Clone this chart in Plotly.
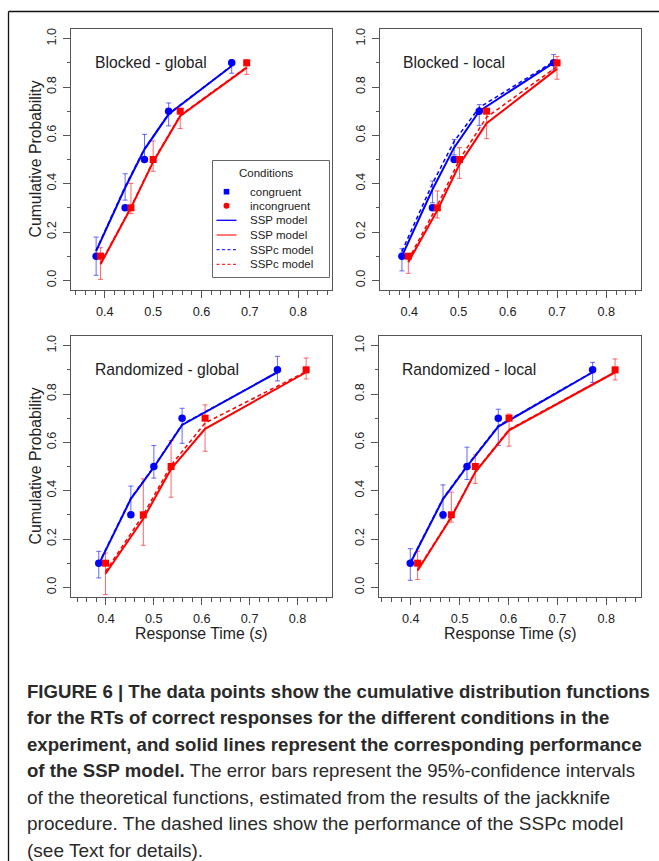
import plotly.graph_objects as go

W, H = 659, 861

# ---------------- data ----------------
panel_titles = ["Blocked - global", "Blocked - local", "Randomized - global", "Randomized - local"]
probs = [0.1, 0.3, 0.5, 0.7, 0.9]

cong_rt = [
    [0.382, 0.442, 0.482, 0.532, 0.6625],
    [0.385, 0.447, 0.491, 0.542, 0.693],
    [0.385, 0.452, 0.500, 0.559, 0.758],
    [0.399, 0.466, 0.515, 0.579, 0.772],
]
incong_rt = [
    [0.391, 0.454, 0.500, 0.556, 0.6935],
    [0.398, 0.457, 0.502, 0.557, 0.700],
    [0.399, 0.478, 0.536, 0.607, 0.818],
    [0.414, 0.483, 0.532, 0.601, 0.818],
]
ssp_cong = [
    [0.121, 0.383, 0.542, 0.687, 0.887],
    [0.100, 0.376, 0.549, 0.700, 0.900],
    [0.095, 0.366, 0.497, 0.672, 0.890],
    [0.100, 0.365, 0.500, 0.665, 0.890],
]
sspc_cong = [
    [0.124, 0.388, 0.544, 0.689, 0.888],
    [0.120, 0.400, 0.575, 0.715, 0.905],
    [0.098, 0.369, 0.499, 0.674, 0.890],
    [0.103, 0.368, 0.503, 0.668, 0.891],
]
ssp_incong = [
    [0.066, 0.300, 0.490, 0.680, 0.880],
    [0.075, 0.290, 0.480, 0.650, 0.875],
    [0.056, 0.284, 0.490, 0.656, 0.890],
    [0.070, 0.290, 0.477, 0.650, 0.890],
]
sspc_incong = [
    [0.069, 0.303, 0.493, 0.683, 0.882],
    [0.085, 0.310, 0.500, 0.675, 0.885],
    [0.065, 0.300, 0.505, 0.680, 0.893],
    [0.073, 0.293, 0.479, 0.653, 0.891],
]
ci_cong_lo = [
    [0.021, 0.332, 0.499, 0.639, 0.857],
    [0.039, 0.321, 0.519, 0.641, 0.870],
    [0.039, 0.290, 0.452, 0.596, 0.854],
    [0.029, 0.284, 0.446, 0.587, 0.848],
]
ci_cong_hi = [
    [0.179, 0.441, 0.604, 0.734, 0.912],
    [0.131, 0.411, 0.583, 0.727, 0.934],
    [0.149, 0.419, 0.587, 0.741, 0.956],
    [0.160, 0.424, 0.580, 0.737, 0.931],
]
ci_incong_lo = [
    [0.004, 0.276, 0.451, 0.628, 0.852],
    [0.029, 0.258, 0.422, 0.586, 0.832],
    [-0.030, 0.174, 0.373, 0.563, 0.862],
    [0.032, 0.270, 0.430, 0.584, 0.858],
]
ci_incong_hi = [
    [0.135, 0.401, 0.577, 0.708, 0.912],
    [0.100, 0.370, 0.549, 0.698, 0.926],
    [0.142, 0.449, 0.607, 0.755, 0.949],
    [0.149, 0.394, 0.548, 0.717, 0.945],
]
x_ticks = [0.4, 0.5, 0.6, 0.7, 0.8]
y_ticks = [0.0, 0.2, 0.4, 0.6, 0.8, 1.0]
legend_labels = ["congruent", "incongruent", "SSP model", "SSP model", "SSPc model", "SSPc model"]

caption_lines = [
    "<b>FIGURE 6 | The data points show the cumulative distribution functions</b>",
    "<b>for the RTs of correct responses for the different conditions in the</b>",
    "<b>experiment, and solid lines represent the corresponding performance</b>",
    "<b>of the SSP model.</b> The error bars represent the 95%-confidence intervals",
    "of the theoretical functions, estimated from the results of the jackknife",
    "procedure. The dashed lines show the performance of the SSPc model",
    "(see Text for details).",
]

# ---------------- styling ----------------
FONT = "Liberation Sans, Arial, sans-serif"
BLUE = "#0000ff"
RED = "#ff0000"
BLUE_EB = "rgba(40,40,255,0.7)"
RED_EB = "rgba(255,40,40,0.7)"
AXC = "#555555"

# pixel boxes of the panels: (left, right, top, bottom)
boxes = [(71, 332, 29, 290), (380, 641, 29, 290), (71, 332, 336, 597), (379, 641, 336, 597)]
xranges = [[0.33, 0.87], [0.3405, 0.8705], [0.327, 0.872], [0.335, 0.871]]
yrange = [-0.04, 1.04]

fig = go.Figure()

for i in range(4):
    xa = "x" if i == 0 else f"x{i+1}"
    ya = "y" if i == 0 else f"y{i+1}"
    # error bars
    for rt, lo, hi, col in [(cong_rt[i], ci_cong_lo[i], ci_cong_hi[i], BLUE_EB),
                            (incong_rt[i], ci_incong_lo[i], ci_incong_hi[i], RED_EB)]:
        mid = [(a + b) / 2 for a, b in zip(lo, hi)]
        half = [(b - a) / 2 for a, b in zip(lo, hi)]
        fig.add_trace(go.Scatter(x=rt, y=mid, mode="markers", xaxis=xa, yaxis=ya,
                                 marker=dict(size=1, opacity=0),
                                 error_y=dict(type="data", array=half, symmetric=True,
                                              color=col, thickness=1, width=2.5),
                                 showlegend=False, hoverinfo="skip"))
    # model lines
    fig.add_trace(go.Scatter(x=cong_rt[i], y=ssp_cong[i], mode="lines", xaxis=xa, yaxis=ya,
                             line=dict(color=BLUE, width=2), showlegend=False))
    fig.add_trace(go.Scatter(x=incong_rt[i], y=ssp_incong[i], mode="lines", xaxis=xa, yaxis=ya,
                             line=dict(color=RED, width=2), showlegend=False))
    fig.add_trace(go.Scatter(x=cong_rt[i], y=sspc_cong[i], mode="lines", xaxis=xa, yaxis=ya,
                             line=dict(color=BLUE, width=1.5, dash="4px,3px"), showlegend=False))
    fig.add_trace(go.Scatter(x=incong_rt[i], y=sspc_incong[i], mode="lines", xaxis=xa, yaxis=ya,
                             line=dict(color=RED, width=1.5, dash="4px,3px"), showlegend=False))
    # data points
    fig.add_trace(go.Scatter(x=cong_rt[i], y=probs, mode="markers", xaxis=xa, yaxis=ya,
                             marker=dict(symbol="circle", size=7.5, color=BLUE, line=dict(width=0)),
                             showlegend=False))
    fig.add_trace(go.Scatter(x=incong_rt[i], y=probs, mode="markers", xaxis=xa, yaxis=ya,
                             marker=dict(symbol="square", size=7, color=RED, line=dict(width=0)),
                             showlegend=False))

layout = dict(
    width=W, height=H, margin=dict(l=0, r=0, t=0, b=0),
    paper_bgcolor="white", plot_bgcolor="white",
    font=dict(family=FONT, color="#222222"),
    showlegend=False,
)
for i, (l, r, t, b) in enumerate(boxes):
    xkey = "xaxis" if i == 0 else f"xaxis{i+1}"
    ykey = "yaxis" if i == 0 else f"yaxis{i+1}"
    xa = "x" if i == 0 else f"x{i+1}"
    ya = "y" if i == 0 else f"y{i+1}"
    layout[xkey] = dict(
        domain=[l / W, r / W], anchor=ya, range=xranges[i],
        showgrid=False, zeroline=False, showline=True, mirror=True,
        linecolor=AXC, linewidth=1,
        tickmode="array", tickvals=x_ticks, ticktext=[f"{v:.1f}" for v in x_ticks],
        ticks="outside", ticklen=7, tickcolor=AXC, tickwidth=1,
        tickfont=dict(size=12.7, color="#222222"), ticklabelstandoff=3,
        minor=dict(dtick=0.02, tick0=0.0, ticks="outside", ticklen=4, tickcolor=AXC, tickwidth=1, showgrid=False),
    )
    layout[ykey] = dict(
        domain=[1 - b / H, 1 - t / H], anchor=xa, range=yrange,
        showgrid=False, zeroline=False, showline=True, mirror=True,
        linecolor=AXC, linewidth=1,
        tickmode="array", tickvals=y_ticks, ticktext=[f"{v:.1f}" for v in y_ticks],
        ticks="outside", ticklen=7, tickcolor=AXC, tickwidth=1, tickangle=-90,
        tickfont=dict(size=12.7, color="#222222"), ticklabelstandoff=2,
        minor=dict(dtick=0.1, tick0=0.0, ticks="outside", ticklen=3, tickcolor=AXC, tickwidth=1, showgrid=False),
    )
fig.update_layout(**layout)

annotations = []
shapes = []
# panel titles
for i, (l, r, t, b) in enumerate(boxes):
    xa = "x" if i == 0 else f"x{i+1}"
    ya = "y" if i == 0 else f"y{i+1}"
    annotations.append(dict(text=panel_titles[i], xref=f"{xa} domain", yref=ya,
                            x=(21.5 if l == 71 else 20.5) / (r - l), y=0.9,
                            xanchor="left", yanchor="middle", showarrow=False,
                            font=dict(size=15.7, color="#222222")))
# axis titles
for cy in [(29 + 290) / 2, (336 + 597) / 2]:
    annotations.append(dict(text="Cumulative Probability", xref="paper", yref="paper",
                            x=35 / W, y=1 - cy / H, textangle=-90, showarrow=False,
                            xanchor="center", yanchor="middle",
                            font=dict(size=15.8, color="#222222")))
for cx in [(71 + 332) / 2, (379 + 641) / 2]:
    annotations.append(dict(text="Response Time (<i>s</i>)", xref="paper", yref="paper",
                            x=cx / W, y=1 - 633.5 / H, showarrow=False,
                            xanchor="center", yanchor="middle",
                            font=dict(size=15.8, color="#222222")))

# legend (top-left panel)
def px(x):
    return x / W
def py(y):
    return 1 - y / H

shapes.append(dict(type="rect", xref="paper", yref="paper", x0=px(212.5), x1=px(329.5), y0=py(160.5), y1=py(277.5),
                   line=dict(color="#666666", width=1), fillcolor="white", layer="above"))
annotations.append(dict(text="Conditions", xref="paper", yref="paper", x=px(266), y=py(172.5),
                        xanchor="center", yanchor="middle", showarrow=False,
                        font=dict(size=11.5, color="#222222")))
rows = [191.7, 205.7, 220.3, 235.0, 249.7, 264.3]
for k, lab in enumerate(legend_labels):
    annotations.append(dict(text=lab, xref="paper", yref="paper", x=px(247.5), y=py(rows[k]),
                            xanchor="left", yanchor="middle", showarrow=False,
                            font=dict(size=11.5, color="#222222")))
cxl = 226.5
shapes.append(dict(type="rect", xref="paper", yref="paper", x0=px(cxl - 2.8), x1=px(cxl + 2.8),
                   y0=py(rows[0] + 2.8), y1=py(rows[0] - 2.8), fillcolor=BLUE, line=dict(width=0), layer="above"))
shapes.append(dict(type="circle", xref="paper", yref="paper", x0=px(cxl - 3), x1=px(cxl + 3),
                   y0=py(rows[1] + 3), y1=py(rows[1] - 3), fillcolor=RED, line=dict(width=0), layer="above"))
for k, (col, dash) in enumerate([(BLUE, "solid"), ("#ff3030", "solid"), ("#3030ff", "3px,2.5px"), ("#ff3030", "3px,2.5px")]):
    yy = rows[k + 2]
    shapes.append(dict(type="line", xref="paper", yref="paper", x0=px(216.5), x1=px(236.5),
                       y0=py(yy), y1=py(yy), line=dict(color=col, width=1.3, dash=dash), layer="above"))

# outer frame
shapes.append(dict(type="line", xref="paper", yref="paper", x0=px(8.5), x1=1, y0=py(11.5), y1=py(11.5),
                   line=dict(color="#111111", width=1.3)))
shapes.append(dict(type="line", xref="paper", yref="paper", x0=px(8.5), x1=px(8.5), y0=py(11.5), y1=0,
                   line=dict(color="#111111", width=1.3)))

# caption
for k, line in enumerate(caption_lines):
    base = 697.7 + 26.5 * k
    annotations.append(dict(text=line, xref="paper", yref="paper", x=px(25), y=py(base - 6.3),
                            xanchor="left", yanchor="middle", showarrow=False, align="left",
                            font=dict(size=18.6 if k < 4 else 19.0, color="#2a2a2a",
                                      family="Liberation Sans, Arial, sans-serif")))

fig.update_layout(annotations=annotations, shapes=shapes)
fig.write_html("out.html")
